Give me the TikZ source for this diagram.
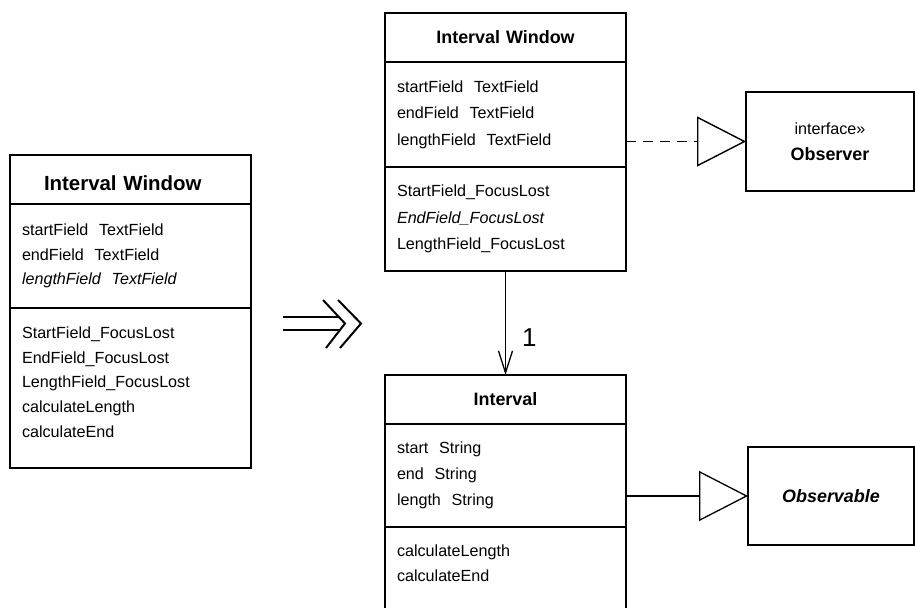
\documentclass[tikz,border=0pt]{standalone}
\usepackage{fontspec}
\setmainfont{Liberation Sans}
\usetikzlibrary{arrows.meta,positioning}

\tikzset{
  classname/.style={draw, line width=1.3bp, outer sep=0pt, inner xsep=12bp, inner ysep=0pt,
    text width=217bp, align=center, minimum height=49bp, font=\fontsize{18}{22}\selectfont\bfseries},
  classpart/.style={draw, line width=1.3bp, outer sep=0pt, inner xsep=12bp, inner ysep=0pt,
    text width=217bp, align=left, font=\fontsize{16.2}{26}\selectfont},
  iface/.style={draw, line width=1.3bp, outer sep=0pt, minimum width=168bp, minimum height=99bp, align=center},
  realize/.style={line width=1.4bp, dash pattern=on 10bp off 7bp, -{Triangle[open,length=49bp,width=50bp]}},
  extend/.style={line width=1.3bp, -{Triangle[open,length=49bp,width=50bp]}},
  assoc/.style={line width=1.3bp, -{Straight Barb[length=22bp,width=14bp]}},
  refactor/.style={line width=2bp}
}

\begin{document}
\begin{tikzpicture}[x=1bp,y=1bp]
\useasboundingbox (0,0) rectangle (915,-608);
\node[classname, anchor=north west, align=left, text height=22bp, font=\fontsize{20.5}{24}\selectfont\bfseries] (oldwin) at (10,-155) {\hspace*{22bp}Interval Window};
\node[classpart, minimum height=104bp, below=0pt of oldwin, font=\fontsize{16.2}{24.7}\selectfont] (oldwinattr) {startField\ \ TextField\\ endField\ \ TextField\\ \textit{lengthField\ \ TextField}};
\node[classpart, minimum height=160bp, below=0pt of oldwinattr, font=\fontsize{16.2}{24.7}\selectfont] (oldwinops) {StartField\_FocusLost\\ EndField\_FocusLost\\ LengthField\_FocusLost\\ calculateLength\\ calculateEnd\rule[-12bp]{0pt}{0pt}};

\draw[refactor] (283,-317) -- (339,-317) (283,-330) -- (340,-330);
\draw[refactor] (323,-300) -- (345,-323.5) -- (326,-348);
\draw[refactor] (338,-300) -- (361,-323.5) -- (340,-348);

\node[classname, anchor=north west] (win) at (385,-13) {Interval Window};
\node[classpart, minimum height=105bp, below=0pt of win, font=\fontsize{16.2}{26.5}\selectfont] (winattr) {startField\ \ TextField\\ endField\ \ TextField\\ lengthField\ \ TextField};
\node[classpart, minimum height=104bp, below=0pt of winattr, font=\fontsize{16.2}{26.5}\selectfont] (winops) {StartField\_FocusLost\\ \textit{EndField\_FocusLost}\\ LengthField\_FocusLost};

\node[classname, anchor=north west] (ival) at (385,-375) {Interval};
\node[classpart, minimum height=103bp, below=0pt of ival] (ivalattr) {start\ \ String\\ end\ \ String\\ length\ \ String};
\node[classpart, minimum height=150bp, below=0pt of ivalattr, font=\fontsize{16.2}{25}\selectfont] (ivalops) {calculateLength\\ calculateEnd\rule[-77bp]{0pt}{0pt}};

\node[iface, font=\fontsize{16.2}{26}\selectfont] (obs) at (830,-141.5) {interface»\\ {\fontsize{18}{26}\selectfont\bfseries Observer}};
\node[iface, minimum width=166bp, minimum height=98bp, font=\fontsize{18}{22}\selectfont\bfseries\itshape] (obsable) at (831,-496) {Observable};

\draw[realize] (winattr.east |- obs.west) -- (obs.west);
\draw[extend] (ivalattr.east |- obsable.west) -- (obsable.west);
\draw[assoc] (winops.south) -- node[pos=0.644, right=16bp, inner sep=0pt, font=\fontsize{26}{30}\selectfont] (mult) {1} (ival.north);
\end{tikzpicture}
\end{document}
